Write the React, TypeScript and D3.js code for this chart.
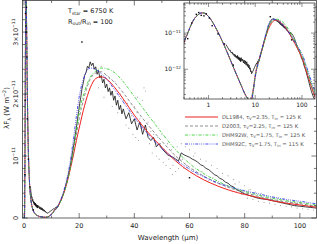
import React from 'react';
import * as d3 from 'd3';

// fluxes are in units of 1e-11 W m^-2
const wl = [0.15, 0.2, 0.25, 0.3, 0.35, 0.4, 0.5, 0.6, 0.7, 0.8, 0.9, 1, 1.2, 1.5, 2, 2.5, 3, 4, 5, 6, 7,
  8, 9, 10, 11, 12, 13, 14, 15, 16, 17, 18, 19, 20, 22, 24, 26, 28, 30, 33, 36, 40, 45, 50,
  55, 60, 65, 70, 75, 80, 85, 90, 95, 100, 110, 120, 140, 160, 190];

const starPart = [0, 0.03, 0.18, 0.55, 0.9, 1.4, 2.5, 3.2, 3.6, 3.6, 3.3, 2.9, 2.1, 1.25, 0.58, 0.3, 0.17, 0.07, 0.036, 0.021, 0.015];

const dl1984Dust = [0.013, 0.025, 0.065, 0.12, 0.17, 0.25, 0.35, 0.48, 0.64, 0.83, 1.03, 1.25, 1.45,
  1.82, 2.1, 2.25, 2.28, 2.24, 2.1, 1.92, 1.66, 1.38, 1.14,
  0.92, 0.75, 0.62, 0.52, 0.44, 0.38, 0.33, 0.28, 0.24, 0.21, 0.15, 0.1, 0.055, 0.032, 0.017];
const d2003Dust = [0.014, 0.028, 0.07, 0.13, 0.18, 0.26, 0.36, 0.5, 0.66, 0.86, 1.1, 1.35, 1.6,
  1.98, 2.24, 2.34, 2.36, 2.3, 2.18, 2.02, 1.78, 1.5, 1.24,
  1.0, 0.82, 0.68, 0.57, 0.48, 0.41, 0.35, 0.3, 0.26, 0.23, 0.16, 0.11, 0.06, 0.035, 0.019];
const dhm92wDust = [0.013, 0.022, 0.06, 0.11, 0.16, 0.24, 0.34, 0.47, 0.64, 0.86, 1.12, 1.42, 1.7,
  2.05, 2.27, 2.37, 2.42, 2.41, 2.34, 2.2, 1.96, 1.66, 1.37,
  1.1, 0.88, 0.72, 0.6, 0.5, 0.43, 0.37, 0.32, 0.28, 0.25, 0.18, 0.125, 0.07, 0.04, 0.022];
const dhm92cDust = [0.012, 0.022, 0.06, 0.11, 0.17, 0.26, 0.38, 0.53, 0.72, 0.98, 1.3, 1.64, 1.95,
  2.3, 2.42, 2.4, 2.33, 2.24, 2.06, 1.87, 1.62, 1.35, 1.12,
  0.94, 0.79, 0.67, 0.57, 0.5, 0.44, 0.39, 0.34, 0.3, 0.27, 0.2, 0.14, 0.078, 0.045, 0.025];

// ISO spectrum (black line)
const obs: [number, number][] = [
  [2.4, 0.48], [2.5, 0.42], [2.6, 0.4], [2.7, 0.36], [2.8, 0.33], [2.9, 0.34], [3.0, 0.3], [3.1, 0.28],
  [3.2, 0.3], [3.3, 0.26], [3.4, 0.27], [3.5, 0.24], [3.6, 0.26], [3.7, 0.22], [3.8, 0.25], [3.9, 0.21],
  [4.0, 0.23], [4.1, 0.2], [4.2, 0.24], [4.3, 0.19], [4.4, 0.22], [4.5, 0.18], [4.6, 0.21], [4.7, 0.17],
  [4.8, 0.2], [4.9, 0.16], [5.0, 0.21], [5.2, 0.17], [5.4, 0.19], [5.6, 0.15], [5.8, 0.18], [6.0, 0.14],
  [6.2, 0.17], [6.4, 0.13], [6.6, 0.16], [6.8, 0.12], [7.0, 0.14], [7.2, 0.11], [7.4, 0.13], [7.6, 0.1],
  [7.8, 0.11], [8.0, 0.085], [8.2, 0.09], [8.4, 0.075], [8.6, 0.08], [8.8, 0.085], [9.0, 0.09], [9.3, 0.1],
  [9.6, 0.11], [9.9, 0.12], [10.2, 0.13], [10.5, 0.14], [10.8, 0.15], [11.1, 0.14], [11.4, 0.17], [11.7, 0.16],
  [12.0, 0.19], [12.3, 0.18], [12.6, 0.22], [13.0, 0.25], [13.4, 0.29], [13.8, 0.33], [14.2, 0.38], [14.6, 0.43],
  [15.0, 0.5], [15.4, 0.57], [15.8, 0.64], [16.2, 0.72], [16.6, 0.8], [17.0, 0.9], [17.4, 1.0], [17.8, 1.12],
  [18.2, 1.22], [18.6, 1.35], [19.0, 1.46], [19.4, 1.6], [19.8, 1.72], [20.2, 1.85], [20.6, 1.95], [21.0, 2.08],
  [21.5, 2.18], [22.0, 2.3], [22.5, 2.35], [23.0, 2.45], [23.5, 2.42], [24.0, 2.52], [24.5, 2.46], [25.0, 2.5],
  [25.5, 2.4], [26.0, 2.44], [26.5, 2.32], [27.0, 2.38], [27.5, 2.26], [28.0, 2.3], [28.5, 2.18], [29.0, 2.24],
  [29.5, 2.1], [30.0, 2.16], [30.5, 2.04], [31.0, 2.1], [31.5, 1.98], [32.0, 2.05], [32.5, 1.9], [33.0, 1.97],
  [33.5, 1.82], [34.0, 1.9], [34.5, 1.75], [35.0, 1.82], [35.5, 1.68], [36.0, 1.76], [37, 1.6], [38, 1.7],
  [39, 1.52], [40, 1.6], [41, 1.42], [42, 1.55], [43, 1.35], [44, 1.5], [45, 1.3], [46, 1.25], [47, 1.3],
  [48, 1.15], [49, 1.2], [50, 1.12], [52, 1.02], [54, 0.98], [56, 0.92], [57, 1.05], [58, 1.02], [59, 1.0],
  [60, 0.98], [61, 0.95], [62, 0.93], [63, 0.9], [64, 0.86], [65, 0.84], [66, 0.8], [67, 0.78], [68, 0.74],
  [69, 0.7], [70, 0.68], [71, 0.64], [72, 0.62], [73, 0.58], [74, 0.56], [75, 0.52], [76, 0.5], [77, 0.46],
  [78, 0.44], [79, 0.41], [80, 0.39], [82, 0.36], [84, 0.33], [86, 0.31], [88, 0.3], [90, 0.28], [92, 0.26],
  [94, 0.24], [96, 0.22], [98, 0.2], [100, 0.19], [102, 0.18], [104, 0.17], [106, 0.16], [110, 0.13],
  [120, 0.095], [130, 0.065], [140, 0.045], [150, 0.032], [160, 0.024], [170, 0.019], [180, 0.016], [190, 0.014]];

// noisy individual detector points (grey)
const scatter: [number, number][] = [
  [27, 2.1], [28, 2.45], [29, 1.95], [30, 2.3], [31, 2.25], [32, 1.8], [33, 2.2], [34, 1.7], [35, 2.0], [36, 1.9],
  [37, 1.5], [37.5, 1.85], [38, 1.45], [38.5, 1.75], [39, 1.65], [39.5, 1.35], [40, 1.8], [40.5, 1.3], [41, 1.7],
  [41.5, 1.25], [42, 1.6], [42.5, 1.45], [43, 1.9], [43.5, 2.1], [44, 2.05], [44.5, 1.7], [45, 1.55], [45.5, 1.2],
  [46, 1.4], [46.5, 1.05], [47, 1.35], [47.5, 1.15], [48, 1.0], [48.5, 1.3], [49, 0.95], [49.5, 1.2], [50, 1.35],
  [50.5, 0.9], [51, 1.1], [51.5, 0.85], [52, 1.2], [52.5, 0.95], [53, 0.8], [53.5, 1.1], [54, 0.85], [54.5, 1.0],
  [55, 0.75], [55.5, 1.15], [56, 0.8], [56.5, 0.95], [57, 1.2], [58, 0.8], [58.5, 1.15], [59, 0.85], [60, 1.1],
  [61, 0.75], [62, 1.05], [63, 0.7], [64, 0.95], [65, 0.68], [66, 0.92], [67, 0.6], [68, 0.85], [69, 0.58],
  [70, 0.8], [71, 0.55], [72, 0.72], [73, 0.5], [74, 0.68], [75, 0.45], [76, 0.62], [77, 0.42], [78, 0.58],
  [79, 0.38], [80, 0.52], [81, 0.32], [82, 0.46], [83, 0.3], [84, 0.42], [85, 0.27], [86, 0.4], [87, 0.25],
  [88, 0.36], [89, 0.24], [90, 0.34], [91, 0.22], [92, 0.32], [93, 0.2], [94, 0.3], [95, 0.19], [96, 0.27],
  [97, 0.18], [98, 0.25], [99, 0.16], [100, 0.24], [101, 0.15], [102, 0.22], [103, 0.14], [104, 0.2], [105, 0.13],
  [41.2, 1.95], [44.2, 1.4], [47.2, 1.55], [51.2, 1.3], [53.8, 0.7], [57.4, 0.95], [61.4, 1.0], [64.5, 0.75],
  [68.5, 0.65], [72.4, 0.6], [76.5, 0.55], [81.5, 0.45], [85.5, 0.33], [89.5, 0.3], [93.5, 0.26], [98.5, 0.2]];

// photometry points
const phot: [number, number][] = [
  [0.36, 0.7], [0.44, 1.9], [0.55, 3.3], [0.62, 3.7], [0.7, 3.1], [0.8, 3.0], [0.9, 3.4], [1.05, 2.6],
  [1.2, 1.6], [1.6, 0.95], [2.2, 0.5], [3.4, 0.13], [21, 2.84], [60, 0.65]];

const models = [
  { name: 'DL1984', tau: '2.35', tin: '125', color: '#ee2020', dash: '', dust: dl1984Dust },
  { name: 'D2003', tau: '2.25', tin: '125', color: '#707070', dash: '3,2', dust: d2003Dust },
  { name: 'DHM92W', tau: '1.75', tin: '125', color: '#22cc22', dash: '3,1.5,0.8,1.5', dust: dhm92wDust },
  { name: 'DHM92C', tau: '1.75', tin: '115', color: '#2222ee', dash: '3,1.2,0.8,1.2,0.8,1.2,0.8,1.2', dust: dhm92cDust },
];

const xMajor = [0, 20, 40, 60, 80, 100];
const xMinor = [10, 30, 50, 70, 90];
const yMajor = [0, 1, 2, 3];
const yLabels = ['0', '10', '2×10', '3×10'];

const W = 317;
const H = 244;
const font = 'DejaVu Sans, sans-serif';
const ink = '#222';

export default function App() {
  const x = d3.scaleLinear().domain([-0.5, 106]).range([22.6, 316.4]);
  const y = d3.scaleLinear().domain([0, 3.51]).range([218, 0.5]);
  const ix = d3.scaleLog().domain([0.3, 190]).range([184, 315]);
  const iy = d3.scaleLog().domain([0.015, 6.8]).range([99, 3]);

  const series = models.map((m) => ({ ...m, vals: starPart.concat(m.dust) }));
  const mainLine = d3.line<[number, number]>().x((d) => x(d[0])).y((d) => y(d[1])).curve(d3.curveMonotoneX);
  const insetLine = d3.line<[number, number]>().x((d) => ix(d[0])).y((d) => iy(d[1])).curve(d3.curveMonotoneX);
  const obsMain = d3.line<[number, number]>().x((d) => x(d[0])).y((d) => y(d[1]));
  const obsInset = d3.line<[number, number]>().x((d) => ix(d[0])).y((d) => iy(d[1]));

  const yMinor = d3.range(0, 3.5, 0.2).filter((v) => Math.abs(v - Math.round(v)) > 0.01);
  const logMinor = (lo: number, hi: number) => {
    const out: number[] = [];
    for (let e = Math.floor(Math.log10(lo)); e <= Math.ceil(Math.log10(hi)); e++) {
      for (let k = 1; k < 10; k++) {
        const v = k * Math.pow(10, e);
        if (v >= lo && v <= hi) out.push(v);
      }
    }
    return out;
  };
  const ixTicks = logMinor(0.3, 190);
  const iyTicks = logMinor(0.015, 6.8);

  const [x0, x1] = x.range();
  const [ix0, ix1] = ix.range();

  return (
    <svg width={W} height={H} style={{ position: 'absolute', left: 0, top: 0 }} fontFamily={font}>
      <defs>
        <clipPath id="mainClip">
          <rect x={x0} y={0.5} width={x1 - x0} height={217.5} />
        </clipPath>
        <clipPath id="insetClip">
          <rect x={ix0} y={3} width={ix1 - ix0} height={96} />
        </clipPath>
      </defs>
      <rect width={W} height={H} fill="#fff" />

      {/* main plot */}
      <g clipPath="url(#mainClip)">
        {scatter.map((d, i) => (
          <circle key={i} cx={x(d[0])} cy={y(d[1])} r={0.55} fill="#999" />
        ))}
        <path d={obsMain(obs) || ''} fill="none" stroke="#111" strokeWidth={0.8} />
        {series.map((s) => (
          <path key={s.name} d={mainLine(wl.map((w, i) => [w, s.vals[i]] as [number, number])) || ''}
            fill="none" stroke={s.color} strokeWidth={s.dash ? 0.8 : 1} strokeDasharray={s.dash} />
        ))}
        {phot.map((d, i) => (
          <rect key={i} x={x(d[0]) - 0.7} y={y(d[1]) - 0.7} width={1.4} height={1.4} fill="#000" />
        ))}
      </g>
      <rect x={x0} y={0.5} width={x1 - x0} height={217.5} fill="none" stroke={ink} strokeWidth={0.7} />
      {xMajor.map((v) => (
        <g key={v}>
          <line x1={x(v)} x2={x(v)} y1={218} y2={213} stroke={ink} strokeWidth={0.6} />
          <line x1={x(v)} x2={x(v)} y1={0.5} y2={5.5} stroke={ink} strokeWidth={0.6} />
          <text x={x(v)} y={228} fontSize={6.5} textAnchor="middle" fill={ink}>{v}</text>
        </g>
      ))}
      {xMinor.map((v) => (
        <g key={v}>
          <line x1={x(v)} x2={x(v)} y1={218} y2={215.5} stroke={ink} strokeWidth={0.6} />
          <line x1={x(v)} x2={x(v)} y1={0.5} y2={3} stroke={ink} strokeWidth={0.6} />
        </g>
      ))}
      {yMajor.map((v, i) => (
        <g key={v}>
          <line x1={x0} x2={x0 + 5} y1={y(v)} y2={y(v)} stroke={ink} strokeWidth={0.6} />
          <line x1={x1} x2={x1 - 5} y1={y(v)} y2={y(v)} stroke={ink} strokeWidth={0.6} />
          <text transform={`translate(18,${y(v)}) rotate(-90)`} fontSize={6.5} textAnchor="middle" fill={ink}>
            {yLabels[i]}
            {i > 0 && <tspan fontSize={4.5} dy={-2.6}>−11</tspan>}
          </text>
        </g>
      ))}
      {yMinor.map((v) => (
        <g key={v}>
          <line x1={x0} x2={x0 + 2.5} y1={y(v)} y2={y(v)} stroke={ink} strokeWidth={0.6} />
          <line x1={x1} x2={x1 - 2.5} y1={y(v)} y2={y(v)} stroke={ink} strokeWidth={0.6} />
        </g>
      ))}
      <text x={168} y={240} fontSize={7} textAnchor="middle" fill={ink}>Wavelength (μm)</text>
      <text transform="translate(9,108) rotate(-90)" fontSize={7} textAnchor="middle" fill={ink}>
        λF<tspan fontSize={4.8} dy={1.5}>λ</tspan><tspan dy={-1.5}> (W m</tspan>
        <tspan fontSize={4.8} dy={-2.6}>−2</tspan><tspan dy={2.6}>)</tspan>
      </text>

      {/* annotation */}
      <text x={68} y={13} fontSize={6.5} fill={ink}>
        T<tspan fontSize={4.5} dy={1.5}>star</tspan><tspan dy={-1.5}> = 6750 K</tspan>
      </text>
      <text x={68} y={23.5} fontSize={6.5} fill={ink}>
        R<tspan fontSize={4.5} dy={1.5}>out</tspan><tspan dy={-1.5}>/R</tspan>
        <tspan fontSize={4.5} dy={1.5}>in</tspan><tspan dy={-1.5}> = 100</tspan>
      </text>

      {/* legend */}
      {series.map((s, i) => {
        const ly = 117 + i * 9;
        return (
          <g key={s.name}>
            <line x1={185} x2={218} y1={ly} y2={ly} stroke={s.color} strokeWidth={s.dash ? 0.8 : 1}
              strokeDasharray={s.dash} />
            <text x={222} y={ly + 1.8} fontSize={5.3} fill="#555">
              {s.name}, τ<tspan fontSize={3.8} dy={1}>V</tspan><tspan dy={-1}>={s.tau},  T</tspan>
              <tspan fontSize={3.8} dy={1}>in</tspan><tspan dy={-1}> = {s.tin} K</tspan>
            </text>
          </g>
        );
      })}

      {/* inset */}
      <rect x={ix0} y={3} width={ix1 - ix0} height={96} fill="#fff" />
      <g clipPath="url(#insetClip)">
        <path d={obsInset(obs) || ''} fill="none" stroke="#111" strokeWidth={0.8} />
        {series.map((s) => (
          <path key={s.name}
            d={insetLine(wl.map((w, i) => [w, s.vals[i]] as [number, number]).filter((d) => d[1] > 0 && d[0] >= 0.25)) || ''}
            fill="none" stroke={s.color} strokeWidth={s.dash ? 0.8 : 1} strokeDasharray={s.dash} />
        ))}
        {phot.map((d, i) => (
          <rect key={i} x={ix(d[0]) - 0.7} y={iy(d[1]) - 0.7} width={1.4} height={1.4} fill="#000" />
        ))}
      </g>
      <rect x={ix0} y={3} width={ix1 - ix0} height={96} fill="none" stroke={ink} strokeWidth={0.7} />
      {ixTicks.map((v) => {
        const major = [1, 10, 100].includes(v);
        const len = major ? 4 : 2;
        return (
          <g key={v}>
            <line x1={ix(v)} x2={ix(v)} y1={99} y2={99 - len} stroke={ink} strokeWidth={0.5} />
            <line x1={ix(v)} x2={ix(v)} y1={3} y2={3 + len} stroke={ink} strokeWidth={0.5} />
            {major && <text x={ix(v)} y={107} fontSize={6} textAnchor="middle" fill={ink}>{v}</text>}
          </g>
        );
      })}
      {iyTicks.map((v) => {
        const major = Math.abs(Math.log10(v) - Math.round(Math.log10(v))) < 1e-6;
        const len = major ? 4 : 2;
        return (
          <g key={v}>
            <line x1={ix0} x2={ix0 + len} y1={iy(v)} y2={iy(v)} stroke={ink} strokeWidth={0.5} />
            <line x1={ix1} x2={ix1 - len} y1={iy(v)} y2={iy(v)} stroke={ink} strokeWidth={0.5} />
            {major && (
              <text x={181} y={iy(v) + 2} fontSize={6} textAnchor="end" fill={ink}>
                10<tspan fontSize={4.2} dy={-2.5}>{v === 1 ? '−11' : '−12'}</tspan>
              </text>
            )}
          </g>
        );
      })}
    </svg>
  );
}
